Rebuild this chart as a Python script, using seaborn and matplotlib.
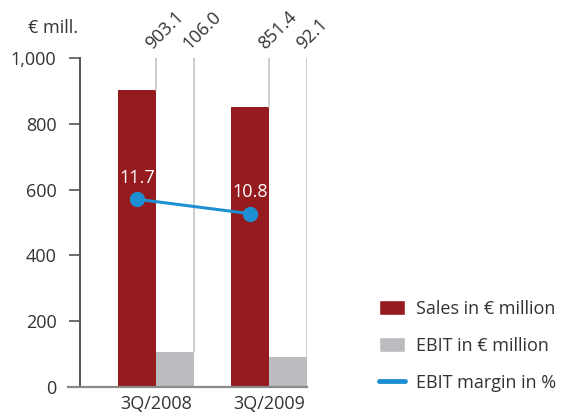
import matplotlib
matplotlib.use("Agg")
import matplotlib.pyplot as plt
import seaborn as sns
import pandas as pd
import numpy as np

categories = ["3Q/2008", "3Q/2009"]
sales = [903.1, 851.4]
ebit = [106.0, 92.1]
margin = [11.7, 10.8]
yticks = [0, 200, 400, 600, 800, 1000]
ytick_labels = ["0", "200", "400", "600", "800", "1,000"]
unit_label = "€ mill."
legend_labels = ["Sales in € million", "EBIT in € million", "EBIT margin in %"]

sns.set_theme(style="white")
plt.rcParams["font.family"] = ["Open Sans", "DejaVu Sans"]
TXT = "#333333"
C_SALES = "#961b1f"
C_EBIT = "#bbbcbf"
C_LINE = "#1e8fd2"
FS = 13

df = pd.DataFrame({
    "period": categories * 2,
    "series": [legend_labels[0]] * 2 + [legend_labels[1]] * 2,
    "value": sales + ebit,
})

fig = plt.figure(figsize=(5.61, 4.17), dpi=100)
W, H = 561, 417
left_px, right_px, top_px, bot_px = 68, 307, 58, 387
ax = fig.add_axes([left_px / W, (H - bot_px) / H, (right_px - left_px) / W, (bot_px - top_px) / H])

bar_w = 0.672
sns.barplot(data=df, x="period", y="value", hue="series", ax=ax, width=bar_w,
            palette=[C_SALES, C_EBIT], saturation=1, dodge=True, legend=False,
            edgecolor="none", linewidth=0)

px_per_unit = 113.0
xmin = -(156 - left_px) / px_per_unit
xmax = (right_px - 156) / px_per_unit
ax.set_xlim(xmin, xmax)
ax.set_ylim(0, 1000)

# vertical guide lines and rotated value labels
for p in ax.patches:
    xr = p.get_x() + p.get_width()
    h = p.get_height()
    ax.plot([xr, xr], [h, 1000], color="#c8c8c8", lw=1.3, zorder=1)
    ax.annotate(f"{h:.1f}", xy=(xr, 1000), xytext=(-3, 6), textcoords="offset points",
                rotation=45, rotation_mode="anchor", ha="left", va="baseline",
                fontsize=FS, color=TXT, annotation_clip=False)

for s in ["top", "right"]:
    ax.spines[s].set_visible(False)
ax.spines["left"].set_position(("data", -(156 - 80) / px_per_unit))
ax.spines["left"].set_color("#555555")
ax.spines["left"].set_linewidth(1.4)
ax.spines["bottom"].set_color("#8a8a8a")
ax.spines["bottom"].set_linewidth(1.6)

ax.set_yticks(yticks)
ax.set_yticklabels(ytick_labels)
ax.tick_params(axis="y", length=8, width=1.2, color="#555555", pad=9, labelsize=FS, labelcolor=TXT, left=True)
ax.set_xticks(range(len(categories)))
ax.set_xticklabels(categories)
ax.tick_params(axis="x", length=0, pad=6, labelsize=FS, labelcolor=TXT)
ax.set_xlabel("")
ax.set_ylabel("")
fig.text(78 / W, (H - 28) / H, unit_label, ha="right", va="center", fontsize=FS, color=TXT)

# margin line on secondary axis
ax2 = ax.twinx()
ax2.set_ylim(0, 20.5)
sales_offset = bar_w / 4
xpos = np.arange(len(categories)) - sales_offset
sns.lineplot(x=xpos, y=margin, ax=ax2, color=C_LINE, lw=2.2, marker="o",
             markersize=11, markeredgewidth=0, legend=False, zorder=5)
ax2.set_xlim(xmin, xmax)
for xp, m in zip(xpos, margin):
    ax2.annotate(f"{m}", xy=(xp, m), xytext=(0, 9), textcoords="offset points",
                 ha="center", va="bottom", color="white", fontsize=FS)
ax2.set_yticks([])
ax2.set_ylabel("")
for s in ax2.spines.values():
    s.set_visible(False)

# legend
from matplotlib.patches import Patch
from matplotlib.lines import Line2D
handles = [Patch(facecolor=C_SALES), Patch(facecolor=C_EBIT), Line2D([], [], color=C_LINE, lw=3.5)]
leg = fig.legend(handles, legend_labels, loc="upper left", bbox_to_anchor=(379 / W, (H - 300) / H),
                 frameon=False, fontsize=FS, handlelength=1.45, handleheight=0.9,
                 handletextpad=0.6, labelspacing=1.05, borderpad=0, borderaxespad=0)
for t in leg.get_texts():
    t.set_color(TXT)

fig.savefig("out.png", dpi=100)
